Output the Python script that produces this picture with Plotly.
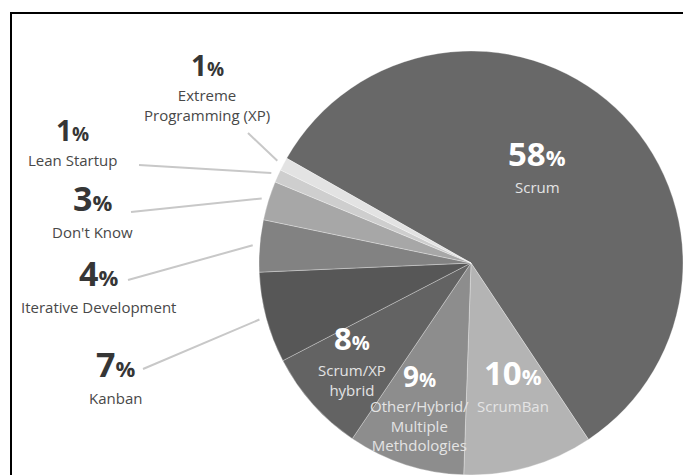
import math
import plotly.graph_objects as go

# Agile methodology in use (% of respondents)
methods = ["Scrum", "ScrumBan", "Other/Hybrid/Multiple Methdologies", "Scrum/XP hybrid",
           "Kanban", "Iterative Development", "Don't Know", "Lean Startup",
           "Extreme Programming (XP)"]
shares = [58, 10, 9, 8, 7, 4, 3, 1, 1]
# how each name is broken over lines in its label
name_lines = [["Scrum"], ["ScrumBan"], ["Other/Hybrid/", "Multiple", "Methdologies"],
              ["Scrum/XP", "hybrid"], ["Kanban"], ["Iterative Development"],
              ["Don't Know"], ["Lean Startup"], ["Extreme", "Programming (XP)"]]

slice_colors = ["#686868", "#b4b4b4", "#8d8d8d", "#636363", "#575757",
                "#828282", "#a7a7a7", "#cecece", "#e3e3e3"]

W, H = 683, 475
CX, CY, R = 471, 263, 212      # pie centre (px from top-left) and radius
START = 150.4                  # where the first slice begins (deg, counter-clockwise from east)
FONT = "Open Sans"
NAME_SIZE = 15
PAD = 0.5                      # half the gap between a number and its name block


def to_paper(x, y):
    return x / W, 1 - y / H


# mid-angle of every slice, going clockwise from START
total = sum(shares)
mids = []
acc = 0
for v in shares:
    a0 = START - acc / total * 360
    acc += v
    a1 = START - acc / total * 360
    mids.append((a0 + a1) / 2)

fig = go.Figure(go.Pie(
    labels=methods,
    values=shares,
    sort=False,
    direction="clockwise",
    rotation=90 - START,
    marker=dict(colors=slice_colors, line=dict(color="rgba(255,255,255,0.3)", width=1)),
    textinfo="none",
    hoverinfo="label+value",
    domain=dict(x=[(CX - R) / W, 1.0], y=[(H - CY - R) / H, (H - CY + R) / H]),
    showlegend=False,
))


def add_label(i, x, mid_y, num_size, pct_size, num_color, name_color):
    """Bold percentage stacked over the name; mid_y is the point half-way between
    the middle of the digits and the middle of the first name line."""
    digit_off = PAD + 0.65 * num_size            # digit middle above the number box bottom
    name_off = PAD + 0.712 * NAME_SIZE           # first line middle below the names box top
    sep = mid_y - (name_off - digit_off) / 2
    _, y_num = to_paper(x, sep - PAD)
    _, y_name = to_paper(x, sep + PAD)
    px = x / W
    num = (f"<b>{shares[i]}</b><span style='font-size:{pct_size}px'><b>%</b></span>")
    fig.add_annotation(x=px, y=y_num, xref="paper", yref="paper", text=num,
                       showarrow=False, xanchor="center", yanchor="bottom",
                       borderpad=0, borderwidth=0,
                       font=dict(family=FONT, size=num_size, color=num_color))
    fig.add_annotation(x=px, y=y_name, xref="paper", yref="paper",
                       text="<br>".join(name_lines[i]),
                       showarrow=False, xanchor="center", yanchor="top", align="center",
                       borderpad=0, borderwidth=0,
                       font=dict(family=FONT, size=NAME_SIZE, color=name_color))


# labels inside the large slices: x, mid y, number size, % size
inside = {
    0: (537, 171, 33, 22),
    1: (513, 390.5, 33, 22),
    2: (419, 391.5, 28, 19),
    3: (352, 354.5, 31, 20),
}
for i, (x, y, ns, ps) in inside.items():
    add_label(i, x, y, ns, ps, "#ffffff", "#e4e4e4")

# labels outside the pie, joined by a leader line to the middle of their slice:
# x, mid y, number size, % size, leader start x/y
outside = {
    8: (207, 80.5, 28, 19, 248, 133),
    7: (72, 146, 28, 19, 139, 165),
    6: (92, 216, 34, 22, 131, 212),
    5: (98, 290.5, 34, 22, 128, 280),
    4: (115, 382, 34, 22, 143, 369),
}
TIP_GAP = 7
for i, (x, y, ns, ps, tx, ty) in outside.items():
    add_label(i, x, y, ns, ps, "#363636", "#484848")
    a = math.radians(mids[i])
    ex = CX + (R + TIP_GAP) * math.cos(a)
    ey = CY - (R + TIP_GAP) * math.sin(a)
    x0, y0 = to_paper(tx, ty)
    x1, y1 = to_paper(ex, ey)
    fig.add_shape(type="line", xref="paper", yref="paper", x0=x0, y0=y0, x1=x1, y1=y1,
                  line=dict(color="#c8c8c8", width=2))

# frame running off the right and bottom edges
bx, by = to_paper(11, 13)
fig.add_shape(type="rect", xref="paper", yref="paper", x0=bx, y0=-0.1, x1=1.1, y1=by,
              line=dict(color="#000000", width=2), fillcolor="rgba(0,0,0,0)")

fig.update_layout(
    width=W, height=H,
    margin=dict(l=0, r=0, t=0, b=0),
    paper_bgcolor="#ffffff",
    plot_bgcolor="#ffffff",
    font=dict(family=FONT),
)

fig.write_html("out.html")
